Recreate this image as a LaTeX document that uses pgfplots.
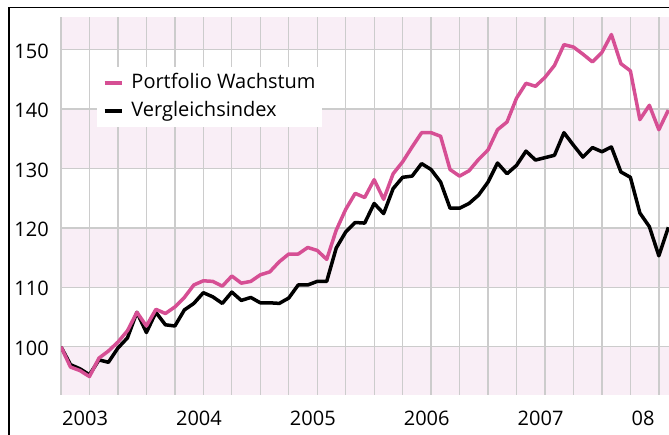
\documentclass[border=0pt]{standalone}
\usepackage{fontspec}
\setmainfont{Open Sans}
\usepackage{pgfplots}
\pgfplotsset{compat=1.18}
\definecolor{bandpink}{HTML}{F9EEF6}
\definecolor{gridgray}{HTML}{CCCCCC}
\definecolor{portpink}{HTML}{D64F94}
\begin{document}
\begin{tikzpicture}
\begin{axis}[
 set layers,
 at={(61pt,40pt)}, anchor=south west,
 scale only axis, width=608pt, height=378.3pt,
 xmin=0, xmax=64.07, ymin=91.9, ymax=155.5,
 axis line style={draw=none},
 major tick style={draw=none}, minor tick style={draw=none},
 xtick={0,3,...,63},
 xticklabels={2003,,,,2004,,,,2005,,,,2006,,,,2007,,,,08,},
 ytick={100,110,...,150},
 grid=major,
 major grid style={draw=gridgray, line width=1.3pt},
 tick label style={font=\fontsize{20}{24}\selectfont},
 xticklabel style={anchor=north west, inner sep=0pt, xshift=1pt, yshift=-16pt},
 yticklabel style={anchor=east, inner sep=0pt, xshift=-12pt, yshift=-1.5pt},
 /pgf/number format/assume math mode=true,
 legend cell align=left,
 legend style={at={(0.0587,0.868)}, anchor=north west, fill=white, draw=none,
   font=\fontsize{20}{24}\selectfont, inner xsep=6pt, inner ysep=5pt,
   row sep=6pt, column sep=8pt,
   nodes={inner sep=0pt, text height=17pt, text depth=5pt}},
]
\begin{pgfonlayer}{axis background}
\fill[bandpink] (axis cs:0,150) rectangle (axis cs:64.07,155.5);
\fill[bandpink] (axis cs:0,130) rectangle (axis cs:64.07,140);
\fill[bandpink] (axis cs:0,110) rectangle (axis cs:64.07,120);
\fill[bandpink] (axis cs:0,91.9) rectangle (axis cs:64.07,100);
\end{pgfonlayer}
\addplot[black, line width=3.5pt, line join=round, forget plot] table {
0 100.0
1 97.0
2 96.3
3 95.3
4 97.8
5 97.4
6 99.8
7 101.5
8 105.8
9 102.4
10 105.8
11 103.7
12 103.5
13 106.2
14 107.3
15 109.1
16 108.4
17 107.3
18 109.2
19 107.8
20 108.3
21 107.4
22 107.4
23 107.3
24 108.2
25 110.4
26 110.4
27 111.0
28 111.0
29 116.6
30 119.3
31 120.9
32 120.8
33 124.1
34 122.4
35 126.6
36 128.5
37 128.7
38 130.8
39 129.8
40 127.7
41 123.3
42 123.3
43 124.1
44 125.5
45 127.7
46 130.9
47 129.1
48 130.5
49 132.9
50 131.4
51 131.8
52 132.2
53 136.0
54 133.9
55 131.9
56 133.5
57 132.8
58 133.6
59 129.4
60 128.5
61 122.5
62 120.2
63 115.3
64 120.1
};
\addplot[portpink, line width=3.5pt, line join=round] table {
0 100.0
1 96.6
2 96.0
3 95.0
4 98.1
5 99.3
6 100.8
7 102.7
8 105.8
9 103.5
10 106.3
11 105.6
12 106.7
13 108.3
14 110.4
15 111.1
16 111.0
17 110.2
18 111.9
19 110.7
20 111.0
21 112.1
22 112.6
23 114.3
24 115.6
25 115.6
26 116.7
27 116.2
28 114.7
29 119.6
30 123.1
31 125.8
32 125.1
33 128.1
34 124.8
35 129.1
36 131.1
37 133.6
38 136.0
39 136.0
40 135.4
41 129.8
42 128.7
43 129.6
44 131.5
45 133.1
46 136.5
47 137.8
48 141.8
49 144.3
50 143.8
51 145.3
52 147.3
53 150.8
54 150.4
55 149.2
56 147.9
57 149.5
58 152.5
59 147.6
60 146.4
61 138.2
62 140.6
63 136.5
64 139.8
};
\addlegendentry{Portfolio Wachstum}
\addlegendimage{black, line width=3.5pt}
\addlegendentry{Vergleichsindex}
\end{axis}
\draw[line width=1.3pt] (9pt,-5pt) -- (9pt,427.7pt) -- (680pt,427.7pt);
\pgfresetboundingbox
\useasboundingbox (0pt,0pt) rectangle (669pt,435pt);
\end{tikzpicture}
\end{document}
